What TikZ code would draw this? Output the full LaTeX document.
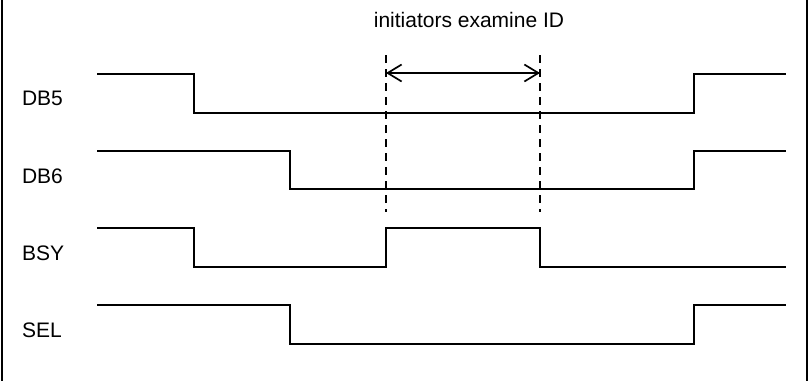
\documentclass[tikz,border=0pt]{standalone}
\usepackage{fontspec}
\setmainfont{Liberation Sans}
\usetikzlibrary{arrows.meta}

\begin{document}
\begin{tikzpicture}[x=1pt, y=-1pt, line width=2pt,
  every node/.style={font=\fontsize{21}{25}\selectfont, inner sep=0pt},
  signame/.style={anchor=west},
  marker/.style={line width=1.5pt, dash pattern=on 8pt off 6pt},
  span/.style={line width=1.7pt, {Straight Barb[length=14pt,width=17pt]}-{Straight Barb[length=14pt,width=17pt]}}]
\useasboundingbox (0,0) rectangle (809,381);
% frame
\draw (2,0) -- (2,381);
\draw (807,0) -- (807,381);
% signal names
\node[signame] (db5) at (21,98) {DB5};
\node[signame] (db6) at (21,176) {DB6};
\node[signame] (bsy) at (21,253) {BSY};
\node[signame] (sel) at (21,330) {SEL};
% waveforms
\draw (97,74) -- (194,74) -- (194,113) -- (694,113) -- (694,74) -- (786,74);
\draw (97,151) -- (290,151) -- (290,189) -- (694,189) -- (694,151) -- (786,151);
\draw (97,228) -- (194,228) -- (194,267) -- (386,267) -- (386,228) -- (540,228) -- (540,267) -- (786,267);
\draw (97,305) -- (290,305) -- (290,344) -- (694,344) -- (694,305) -- (786,305);
% examine window
\draw[marker] (386,55) -- (386,212);
\draw[marker] (540,55) -- (540,212);
\coordinate (winl) at (386,73);
\coordinate (winr) at (540,73);
\draw[span] (winl) -- (winr);
\node (note) at (469,20) {initiators examine ID};
\end{tikzpicture}
\end{document}
